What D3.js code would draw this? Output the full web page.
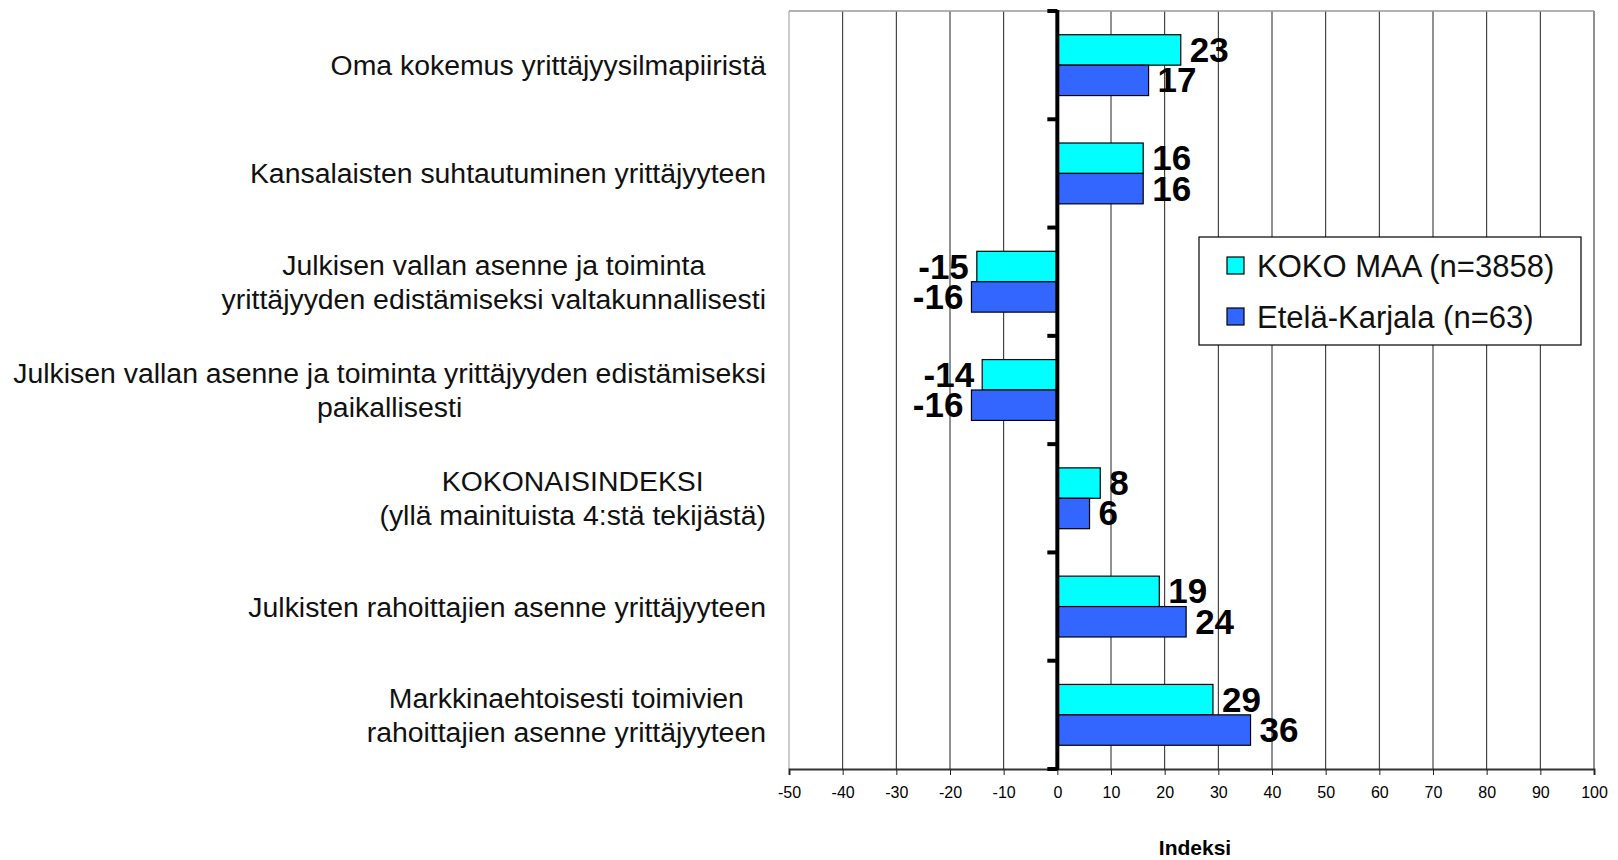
<!DOCTYPE html>
<html>
<head>
<meta charset="utf-8">
<script src="https://cdn.jsdelivr.net/npm/d3@7"></script>
<style>
  body { margin: 0; background: #fff; }
  svg { display: block; font-family: "Liberation Sans", Arial, sans-serif; }
</style>
</head>
<body>
<svg id="chart" width="1618" height="860"></svg>
<script>
// data
const categories = [
  ["Oma kokemus yrittäjyysilmapiiristä"],
  ["Kansalaisten suhtautuminen yrittäjyyteen"],
  ["Julkisen vallan asenne ja toiminta", "yrittäjyyden edistämiseksi valtakunnallisesti"],
  ["Julkisen vallan asenne ja toiminta yrittäjyyden edistämiseksi", "paikallisesti"],
  ["KOKONAISINDEKSI", "(yllä mainituista 4:stä tekijästä)"],
  ["Julkisten rahoittajien asenne yrittäjyyteen"],
  ["Markkinaehtoisesti toimivien ", "rahoittajien asenne yrittäjyyteen"]
];
const seriesNames = ["KOKO MAA (n=3858)", "Etelä-Karjala (n=63)"];
const kokoMaa = [23, 16, -15, -14, 8, 19, 29];
const etelaKarjala = [17, 16, -16, -16, 6, 24, 36];
const xTicks = [-50, -40, -30, -20, -10, 0, 10, 20, 30, 40, 50, 60, 70, 80, 90, 100];
const colors = ["#00FFFF", "#3366FF"];

const svg = d3.select("#chart");
const m = { left: 789, right: 1594, top: 11, bottom: 769 };

const x = d3.scaleLinear().domain([-50, 100]).range([m.left, m.right]);
const y = d3.scaleBand().domain(d3.range(categories.length)).range([m.top, m.bottom]).padding(0);
const ySub = d3.scaleBand().domain([0, 1]).range([0, y.bandwidth()]).paddingInner(0).paddingOuter(0.78);

const values = [kokoMaa, etelaKarjala];

// gridlines
svg.append("g")
  .selectAll("line")
  .data(xTicks)
  .join("line")
  .attr("x1", d => x(d)).attr("x2", d => x(d))
  .attr("y1", m.top).attr("y2", m.bottom)
  .attr("stroke", d => (d === -50 ? "#999" : "#222"))
  .attr("stroke-width", 1);

// top border
svg.append("line")
  .attr("x1", m.left).attr("x2", m.right)
  .attr("y1", m.top).attr("y2", m.top)
  .attr("stroke", "#999").attr("stroke-width", 1.5);

// bottom axis
const xAxis = svg.append("g")
  .attr("transform", `translate(0,${m.bottom})`)
  .call(d3.axisBottom(x).tickValues(xTicks).tickSize(6).tickPadding(12).tickFormat(d => String(d)));
xAxis.select(".domain").attr("stroke", "#333").attr("stroke-width", 2);
xAxis.selectAll(".tick line").attr("stroke", "#222");
xAxis.selectAll("text")
  .attr("font-family", "'Liberation Sans', Arial, sans-serif")
  .attr("font-size", 16).attr("fill", "#000");

svg.append("text")
  .attr("x", 1195)
  .attr("y", 855)
  .attr("text-anchor", "middle")
  .attr("font-size", 21)
  .attr("font-weight", "bold")
  .text("Indeksi");

// bars
values.forEach((vals, s) => {
  svg.append("g")
    .selectAll("rect")
    .data(vals)
    .join("rect")
    .attr("x", d => x(Math.min(0, d)))
    .attr("width", d => Math.abs(x(d) - x(0)))
    .attr("y", (d, i) => y(i) + ySub(s))
    .attr("height", ySub.bandwidth())
    .attr("fill", colors[s])
    .attr("stroke", "#000")
    .attr("stroke-width", 1.2);

  svg.append("g")
    .selectAll("text")
    .data(vals)
    .join("text")
    .attr("x", d => (d >= 0 ? x(d) + 9 : x(d) - 8))
    .attr("y", (d, i) => y(i) + ySub(s) + ySub.bandwidth() / 2 + 12)
    .attr("text-anchor", d => (d >= 0 ? "start" : "end"))
    .attr("font-size", 35)
    .attr("font-weight", "bold")
    .text(d => d);
});

// zero axis with category ticks
svg.append("line")
  .attr("x1", x(0)).attr("x2", x(0))
  .attr("y1", m.top - 1).attr("y2", m.bottom + 1)
  .attr("stroke", "#000").attr("stroke-width", 4);
svg.append("g")
  .selectAll("line")
  .data(d3.range(categories.length + 1))
  .join("line")
  .attr("x1", x(0) - 10).attr("x2", x(0))
  .attr("y1", i => (i < categories.length ? y(i) : m.bottom))
  .attr("y2", i => (i < categories.length ? y(i) : m.bottom))
  .attr("stroke", "#000").attr("stroke-width", 4);

// category labels: lines centred in a block that is right-aligned
const labelRight = 766;
const lineGap = 34;
categories.forEach((lines, i) => {
  const g = svg.append("g");
  const cy = y(i) + y.bandwidth() / 2;
  const texts = g.selectAll("text")
    .data(lines)
    .join("text")
    .attr("font-size", 28.4)
    .attr("fill", "#111")
    .attr("text-anchor", "middle")
    .attr("y", (d, j) => cy + 10 + (j - (lines.length - 1) / 2) * lineGap)
    .text(d => d);
  let maxW = 0;
  texts.each(function () { maxW = Math.max(maxW, this.getComputedTextLength()); });
  texts.attr("x", labelRight - maxW / 2);
});

// legend
const lg = svg.append("g").attr("transform", "translate(1199,237)");
lg.append("rect")
  .attr("width", 382).attr("height", 108)
  .attr("fill", "#fff").attr("stroke", "#000").attr("stroke-width", 1.2);
seriesNames.forEach((name, s) => {
  lg.append("rect")
    .attr("x", 28).attr("y", 20 + s * 51)
    .attr("width", 17).attr("height", 17)
    .attr("fill", colors[s]).attr("stroke", "#000").attr("stroke-width", 1.2);
  lg.append("text")
    .attr("x", 58).attr("y", 40 + s * 51)
    .attr("font-size", 31)
    .attr("fill", "#111")
    .text(name);
});
</script>
</body>
</html>
